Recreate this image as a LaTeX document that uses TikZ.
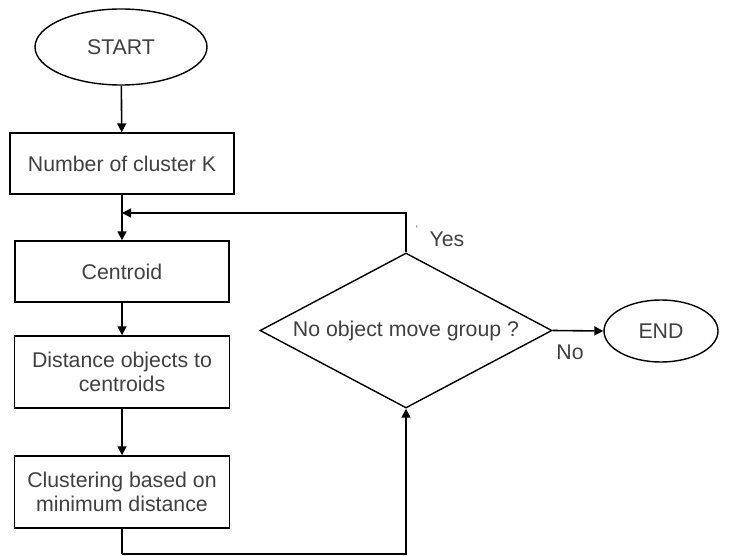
\documentclass[tikz,border=0pt]{standalone}
\usepackage{fontspec}
\setmainfont{Liberation Sans}
\usetikzlibrary{arrows.meta,shapes.geometric,calc}

\begin{document}
\begin{tikzpicture}
    [x=1pt,y=-1pt,
      every node/.style={font=\fontsize{21.3}{24}\selectfont,text=black!75},
      terminal/.style={ellipse,draw,line width=1.4pt,inner sep=0pt},
      process/.style={rectangle,draw,line width=1.4pt,minimum height=61pt,align=center,inner sep=0pt},
      decision/.style={diamond,draw,line width=1.4pt,inner sep=1pt,shape aspect=1.9,minimum width=292pt,minimum height=155pt},
      flow/.style={draw,line width=1.6pt,-{Triangle[length=9pt,width=9pt]}},
      link/.style={draw,line width=1.6pt}
    ]
    \useasboundingbox (0,0) rectangle (731,556);
    \node [terminal,minimum width=172pt,minimum height=76pt] (start) at (121,47) {START};
    \node [process,minimum width=224pt] (number) at (122,163.5) {Number of cluster K};
    \node [process,minimum width=214pt] (centroid) at (122,271.5) {Centroid};
    \node [process,minimum width=215pt,minimum height=72pt] (distance) at (122,372) {Distance objects to\\centroids};
    \node [process,minimum width=215pt,minimum height=72pt] (clustering) at (122,492) {Clustering based on\\minimum distance};
    \node [decision] (moved) at (406,330.5) {No object move group ?};
    \node [terminal,minimum width=114pt,minimum height=62pt] (finish) at (661,331) {END};
    \coordinate (join) at (122,213);
    \coordinate (below) at (122,554);
    \draw [flow] (start) -- (number);
    \draw [flow] (number) -- (centroid);
    \draw [flow] (centroid) -- (distance);
    \draw [flow] (distance) -- (clustering);
    \draw [flow] (moved.north) |- (join);
    \draw [link] (clustering.south) -- (below);
    \draw [flow] (below) -| (moved.south);
    \draw [flow] (moved.east) -- (finish.west);
    \node (yes) at (447,239) {Yes};
    \node [font=\fontsize{10}{12}\selectfont] (tick) at (417,229) {`};
    \node (no) at (570,352) {No};
\end{tikzpicture}
\end{document}
